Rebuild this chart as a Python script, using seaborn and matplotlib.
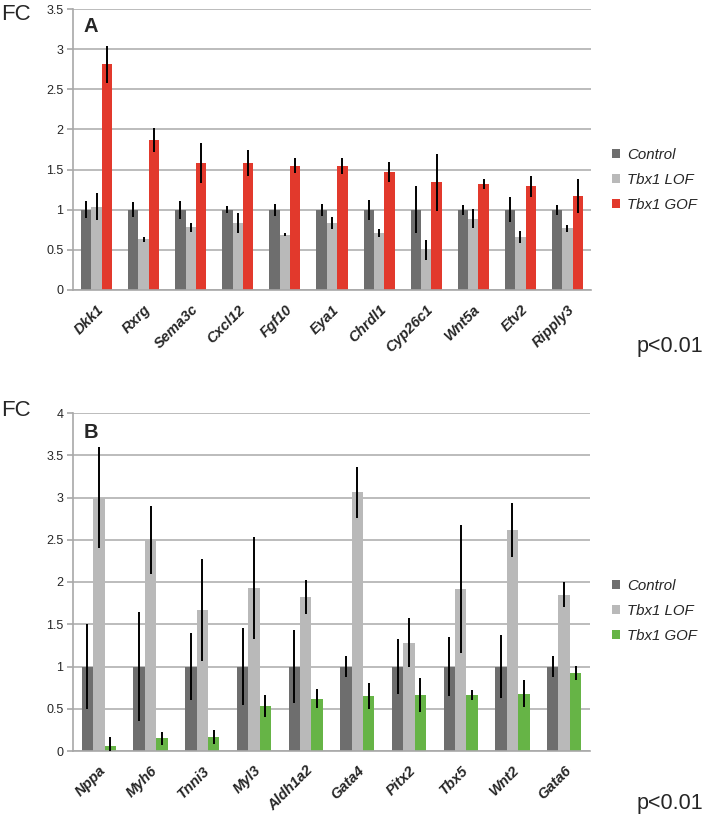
import numpy as np
import pandas as pd
import matplotlib
matplotlib.use("Agg")
import matplotlib.pyplot as plt
import seaborn as sns
from matplotlib.patches import Patch

# ---------------- Data ----------------
genes_a = ["Dkk1", "Rxrg", "Sema3c", "Cxcl12", "Fgf10", "Eya1", "Chrdl1",
           "Cyp26c1", "Wnt5a", "Etv2", "Ripply3"]
ctrl_a = [1.0, 1.0, 1.0, 1.0, 1.0, 1.0, 1.0, 1.0, 1.0, 1.0, 1.0]
ctrl_a_err = [0.105, 0.09, 0.11, 0.045, 0.075, 0.075, 0.125, 0.29, 0.06, 0.155, 0.06]
lof_a = [1.04, 0.63, 0.78, 0.84, 0.69, 0.83, 0.71, 0.50, 0.89, 0.66, 0.77]
lof_a_err = [0.17, 0.03, 0.055, 0.125, 0.02, 0.075, 0.055, 0.125, 0.12, 0.08, 0.045]
gof_a = [2.81, 1.87, 1.58, 1.58, 1.55, 1.55, 1.47, 1.34, 1.32, 1.29, 1.17]
gof_a_err = [0.23, 0.15, 0.25, 0.165, 0.09, 0.10, 0.125, 0.35, 0.065, 0.13, 0.21]

genes_b = ["Nppa", "Myh6", "Tnni3", "Myl3", "Aldh1a2", "Gata4", "Pitx2",
           "Tbx5", "Wnt2", "Gata6"]
ctrl_b = [1.0, 1.0, 1.0, 1.0, 1.0, 1.0, 1.0, 1.0, 1.0, 1.0]
ctrl_b_err = [0.50, 0.65, 0.40, 0.45, 0.43, 0.12, 0.33, 0.345, 0.37, 0.12]
lof_b = [3.0, 2.5, 1.67, 1.93, 1.82, 3.06, 1.28, 1.92, 2.62, 1.85]
lof_b_err = [0.60, 0.40, 0.60, 0.60, 0.20, 0.30, 0.29, 0.755, 0.32, 0.15]
gof_b = [0.06, 0.15, 0.165, 0.53, 0.62, 0.65, 0.66, 0.66, 0.68, 0.925]
gof_b_err = [0.10, 0.08, 0.08, 0.13, 0.11, 0.155, 0.20, 0.06, 0.16, 0.085]

groups = ["Control", "Tbx1 LOF", "Tbx1 GOF"]
yticks_a = [0, 0.5, 1, 1.5, 2, 2.5, 3, 3.5]
yticks_b = [0, 0.5, 1, 1.5, 2, 2.5, 3, 3.5, 4]

DARK = "#6e6e6e"
LIGHT = "#b9b9b9"
RED = "#e2392c"
GREEN = "#66b446"

sns.set_style("white")
plt.rcParams["font.family"] = ["Liberation Sans", "DejaVu Sans"]

W, H = 705, 818
fig = plt.figure(figsize=(W / 100, H / 100), dpi=100)


def fig_rect(x0, y0, x1, y1):
    return [x0 / W, 1 - y1 / H, (x1 - x0) / W, (y1 - y0) / H]


def panel(rect, genes, vals, errs, colors, yticks, ymax, letter, leg_y):
    ax = fig.add_axes(rect)
    rows = []
    for g, v in zip(groups, vals):
        for gene, val in zip(genes, v):
            rows.append({"gene": gene, "group": g, "value": val})
    df = pd.DataFrame(rows)
    sns.barplot(data=df, x="gene", y="value", hue="group", order=genes,
                hue_order=groups, palette=colors, width=0.66, errorbar=None,
                saturation=1, legend=False, ax=ax, gap=0, linewidth=0)
    for cont, e in zip(ax.containers, errs):
        xs = [p.get_x() + p.get_width() / 2 for p in cont.patches]
        hs = [p.get_height() for p in cont.patches]
        ax.errorbar(xs, hs, yerr=e, fmt="none", ecolor="black",
                    elinewidth=1.4, capsize=0, zorder=5)
    n = len(genes)
    ax.set_xlim(-0.5, n - 0.5)
    ax.set_ylim(0, ymax)
    ax.set_yticks(yticks)
    ax.set_yticklabels([f"{t:g}" for t in yticks], fontsize=9)
    ax.set_xlabel("")
    ax.set_ylabel("")
    ax.yaxis.grid(True, color="#b0b0b0", linewidth=1.2)
    ax.set_axisbelow(True)
    for s in ["top", "right"]:
        ax.spines[s].set_visible(False)
    for s in ["left", "bottom"]:
        ax.spines[s].set_color("#a8a8a8")
        ax.spines[s].set_linewidth(1.2)
    ax.set_xticks(range(n))
    ax.set_xticklabels(genes, rotation=45, ha="right", rotation_mode="anchor",
                       fontsize=10.5, fontweight="bold", fontstyle="italic")
    ax.tick_params(axis="x", which="major", length=0, pad=9)
    ax.set_xticks(np.arange(-0.5, n, 1.0), minor=True)
    ax.tick_params(axis="x", which="minor", length=4, color="#a8a8a8", width=1.2)
    ax.tick_params(axis="y", length=4, color="#a8a8a8", width=1.2, pad=3, left=True)
    ax.text(0.02, 0.97, letter, transform=ax.transAxes, fontsize=14.5,
            fontweight="bold", va="top", ha="left")
    handles = [Patch(facecolor=c, edgecolor="none") for c in colors]
    fig.legend(handles, groups, loc="center left",
               bbox_to_anchor=(612 / W, 1 - leg_y / H),
               bbox_transform=fig.transFigure, frameon=False,
               prop={"style": "italic", "size": 10.8}, handlelength=0.55,
               handleheight=0.55, handletextpad=0.45, labelspacing=0.72,
               borderpad=0, borderaxespad=0)
    return ax


axA = panel(fig_rect(73, 9, 591, 290), genes_a, [ctrl_a, lof_a, gof_a],
            [ctrl_a_err, lof_a_err, gof_a_err], [DARK, LIGHT, RED],
            yticks_a, 3.5, "A", 180)
axB = panel(fig_rect(73, 413, 590, 751), genes_b, [ctrl_b, lof_b, gof_b],
            [ctrl_b_err, lof_b_err, gof_b_err], [DARK, LIGHT, GREEN],
            yticks_b, 4.0, "B", 611)

fig.text(1 / W, 1 - 15 / H, "FC", fontsize=16, va="center", ha="left")
fig.text(1 / W, 1 - 410 / H, "FC", fontsize=16, va="center", ha="left")
fig.text(703 / W, 1 - 347 / H, "p<0.01", fontsize=15.5, va="center", ha="right")
fig.text(703 / W, 1 - 803 / H, "p<0.01", fontsize=15.5, va="center", ha="right")

fig.savefig("out.png", dpi=100)
